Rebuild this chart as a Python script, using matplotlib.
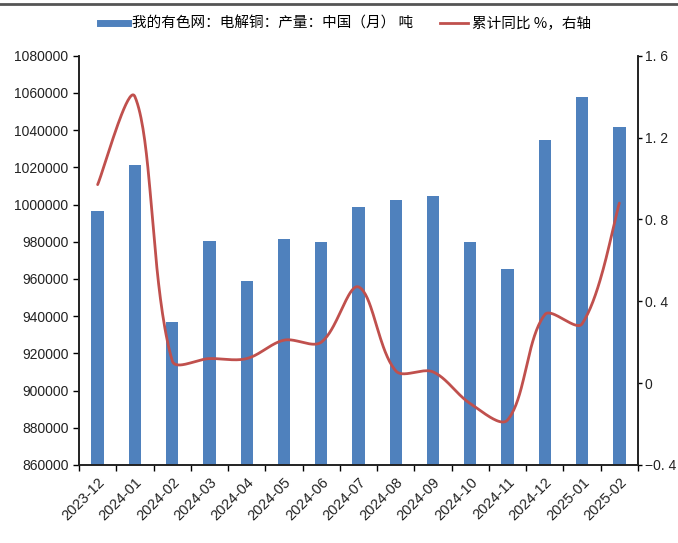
import numpy as np
import matplotlib
matplotlib.use("Agg")
import matplotlib.pyplot as plt
from matplotlib.lines import Line2D

plt.rcParams['font.family'] = ['Liberation Sans', 'Noto Sans CJK SC', 'DejaVu Sans']

months = ["2023-12", "2024-01", "2024-02", "2024-03", "2024-04", "2024-05", "2024-06",
          "2024-07", "2024-08", "2024-09", "2024-10", "2024-11", "2024-12", "2025-01", "2025-02"]
production = [996400, 1021300, 936800, 980600, 959000, 981400, 979800,
              998900, 1002300, 1004600, 979800, 965400, 1034700, 1057800, 1041500]
yoy = [0.97, 1.40, 0.11, 0.12, 0.12, 0.21, 0.20,
       0.47, 0.06, 0.055, -0.10, -0.18, 0.335, 0.29, 0.88]

bar_label = "我的有色网：电解铜：产量：中国（月） 吨"
line_label = "累计同比 %，右轴"
left_ticks = [860000, 880000, 900000, 920000, 940000, 960000, 980000, 1000000,
              1020000, 1040000, 1060000, 1080000]
right_ticks = [-0.4, 0, 0.4, 0.8, 1.2, 1.6]
right_tick_labels = ["−0. 4", "0", "0. 4", "0. 8", "1. 2", "1. 6"]

BLUE = "#4F81BD"
RED = "#C0504D"

fig = plt.figure(figsize=(6.78, 5.43), dpi=100)
ax = fig.add_axes([79/678, 1-465/543, (638-79)/678, (465-55.7)/543])
x = np.arange(len(months))
ax.bar(x, production, width=0.33, color=BLUE, zorder=2)
ax.set_xlim(-0.5, len(months)-0.5)
ax.set_ylim(860000, 1080000)
ax.set_yticks(left_ticks)
ax.set_yticklabels([str(v) for v in left_ticks], fontsize=10, color="#222222")

ax.set_xticks(np.arange(len(months)+1)-0.5)
ax.set_xticklabels([])
ax.set_xticks(x, minor=True)
ax.set_xticklabels(months, minor=True, rotation=45, ha='right', rotation_mode='anchor',
                   fontsize=10.5, color="#222222")
ax.tick_params(axis='x', which='minor', length=0, pad=7)
ax.tick_params(axis='x', which='major', length=4, direction='out', width=1)
ax.tick_params(axis='y', length=4, direction='out', width=1)
ax.spines['top'].set_visible(False)
for s in ['left', 'bottom', 'right']:
    ax.spines[s].set_linewidth(1.2)
    ax.spines[s].set_color('#222222')

ax2 = ax.twinx()
ax2.set_ylim(-0.4, 1.6)
ax2.set_yticks(right_ticks)
ax2.set_yticklabels(right_tick_labels, fontsize=10, color="#222222",
                    family=['Liberation Sans'])
ax2.tick_params(axis='y', length=3, direction='out', width=1, pad=2)
ax2.spines['top'].set_visible(False)
for s in ['left', 'bottom', 'right']:
    ax2.spines[s].set_linewidth(1.2)
    ax2.spines[s].set_color('#222222')

# Excel-like smoothing through the data points (distance-weighted Bezier control points)
xs_pix = 37.3   # pixels per category
ys_pix = 204.5  # pixels per unit on right axis
px = x.astype(float)
py = np.array(yoy, dtype=float)
n = len(px)
P = np.column_stack([px * xs_pix, py * ys_pix])
tension = 1/3
cx, cy = [], []
for i in range(n-1):
    p0 = P[max(i-1, 0)]
    p1 = P[i]
    p2 = P[i+1]
    p3 = P[min(i+2, n-1)]
    d01 = np.hypot(*(p1-p0))
    d12 = np.hypot(*(p2-p1))
    d23 = np.hypot(*(p3-p2))
    f1 = 2*d12/(d01+d12) if d01 > 0 else 1.0
    f2 = 2*d12/(d12+d23) if d23 > 0 else 1.0
    c1 = p1 + (p2-p0) * tension/2 * f1
    c2 = p2 - (p3-p1) * tension/2 * f2
    t = np.linspace(0, 1, 40)[:, None]
    B = (1-t)**3*p1 + 3*(1-t)**2*t*c1 + 3*(1-t)*t**2*c2 + t**3*p2
    if i > 0:
        B = B[1:]
    cx.extend(B[:, 0] / xs_pix)
    cy.extend(B[:, 1] / ys_pix)
ax2.plot(cx, cy, color=RED, lw=2, zorder=3, solid_capstyle='round')

handles = [Line2D([0], [0], color=BLUE, lw=5),
           Line2D([0], [0], color=RED, lw=2)]
fig.legend(handles, [bar_label, line_label], loc='center', bbox_to_anchor=(0.510, 1-24/543),
           ncol=2, frameon=False, handlelength=1.9, handletextpad=0.3,
           columnspacing=1.85, prop={'family': ['Noto Sans CJK SC', 'DejaVu Sans'], 'size': 10.5})

fig.add_artist(Line2D([0, 1], [1-4/543, 1-4/543], transform=fig.transFigure,
                      color='#555555', lw=2))

fig.savefig("out.png", dpi=100)
